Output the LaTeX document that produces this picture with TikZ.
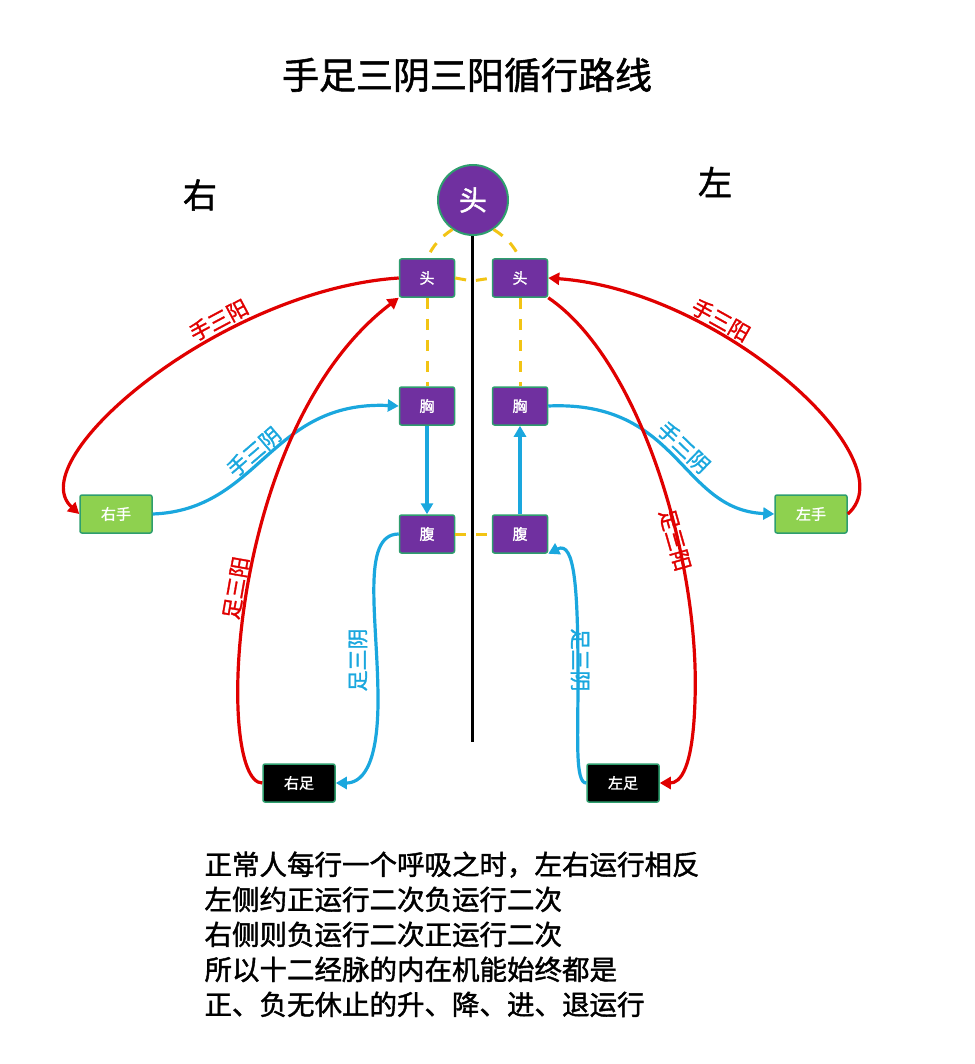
\documentclass[tikz,border=0pt]{standalone}
\usepackage{fontspec}
\setmainfont{Noto Sans CJK SC}[FakeBold=1.5]
\usetikzlibrary{arrows.meta}
\definecolor{pur}{HTML}{7030A0}
\definecolor{grn}{HTML}{2E9E6E}
\definecolor{lgrn}{HTML}{8ED14F}
\definecolor{rd}{HTML}{E00000}
\definecolor{bl}{HTML}{1AA7DE}
\definecolor{yl}{HTML}{F2C414}
\begin{document}
\begin{tikzpicture}[x=1pt,y=-1pt,
 box/.style={draw=grn,line width=1.5pt,rounded corners=2pt,minimum width=55pt,minimum height=38pt,text=white,font=\fontsize{15}{15}\selectfont,inner sep=0pt},
 pbox/.style={box,fill=pur},
 gbox/.style={box,fill=lgrn,minimum width=72pt},
 kbox/.style={box,fill=black,minimum width=72pt},
 ra/.style={draw=rd,line width=3.2pt,-{Triangle[length=11pt,width=12pt]}},
 ba/.style={draw=bl,line width=3.2pt,-{Triangle[length=11pt,width=12pt]}},
 dsh/.style={draw=yl,line width=3pt,dash pattern=on 11pt off 10pt},
 lbf/.style={font=\fontsize{21}{21}\selectfont,inner sep=1pt},
 lab/.style={sloped,lbf}]
\useasboundingbox (0,0) rectangle (974,1064);
\node (title) at (467,75) {\fontsize{37}{37}\selectfont 手足三阴三阳循行路线};
\node (R) at (200,195) {\fontsize{34}{34}\selectfont 右};
\node (L) at (715,182) {\fontsize{34}{34}\selectfont 左};
\coordinate (vt) at (472,235);
\coordinate (vb) at (472,742);
\draw[line width=3pt] (vt) -- (vb);
\node[circle,fill=pur,draw=grn,line width=2pt,minimum size=70pt,text=white,font=\fontsize{28}{28}\selectfont] (head) at (473,200) {头};
\node[pbox] (hL) at (427,278) {头};
\node[pbox] (hR) at (520,278) {头};
\node[pbox] (cL) at (427,406) {胸};
\node[pbox] (cR) at (520,406) {胸};
\node[pbox] (aL) at (427,534) {腹};
\node[pbox] (aR) at (520,534) {腹};
\node[gbox] (handR) at (116,514) {右手};
\node[gbox] (handL) at (811,514) {左手};
\node[kbox] (footR) at (299,783) {右足};
\node[kbox] (footL) at (623,783) {左足};
% dashed
\draw[dsh] (head.235) to[bend right=15] (hL.north);
\draw[dsh] (head.305) to[bend left=15] (hR.north);
\coordinate (mh) at (472,281);
\coordinate (ma) at (472,534);
\draw[dsh] (hL.east) -- (mh) -- (hR.west);
\draw[dsh] (aL.east) -- (ma) -- (aR.west);
\draw[dsh] (hL.south) -- (cL.north);
\draw[dsh] (hR.south) -- (cR.north);
% inner blue
\draw[ba] (cL.south) -- (aL.north);
\draw[ba] (aR.north) -- (cR.south);
% right side (image left)
\draw[ra] (hL.west) .. controls (220,290) and (20,460) .. (handR.west)
  node[lab,pos=0.33,above=1pt] {\textcolor{rd}{手三阳}};
\draw[ba] (handR.east) .. controls (260,510) and (270,400) .. (cL.west)
  node[lab,pos=0.47,above=0pt] {\textcolor{bl}{手三阴}};
\draw[ra] (footR.west) .. controls (215,783) and (225,430) .. (hL.south west)
  node[lab,pos=0.5,above=0pt] {\textcolor{rd}{足三阳}};
\draw[ba] (aL.west) .. controls (360,534) and (378,620) .. (378,700) .. controls (378,770) and (360,783) .. (footR.east);
\node[lbf,text=bl,rotate=90] (t1) at (358,660) {足三阴};
% left side (image right)
\draw[ra] (handL.east) .. controls (910,460) and (720,290) .. (hR.east)
  node[lab,pos=0.67,above=1pt] {\textcolor{rd}{手三阳}};
\draw[ba] (cR.east) .. controls (680,400) and (680,510) .. (handL.west)
  node[lab,pos=0.5,above=0pt] {\textcolor{bl}{手三阴}};
\draw[ra] (hR.south east) .. controls (640,360) and (700,560) .. (695,700) .. controls (693,770) and (680,783) .. (footL.east);
\node[lbf,text=rd,rotate=-74] (t2) at (675,540) {足三阳};
\draw[ba] (footL.west) .. controls (575,783) and (578,740) .. (578,680) .. controls (578,590) and (575,540) .. (aR.south east);
\node[lbf,text=bl,rotate=-90] (t3) at (580,660) {足三阴};
\node[anchor=north west,align=left,font=\fontsize{27.5}{35}\selectfont] (txt) at (201,848)
 {正常人每行一个呼吸之时，左右运行相反\\左侧约正运行二次负运行二次\\右侧则负运行二次正运行二次\\所以十二经脉的内在机能始终都是\\正、负无休止的升、降、进、退运行};
\end{tikzpicture}
\end{document}
